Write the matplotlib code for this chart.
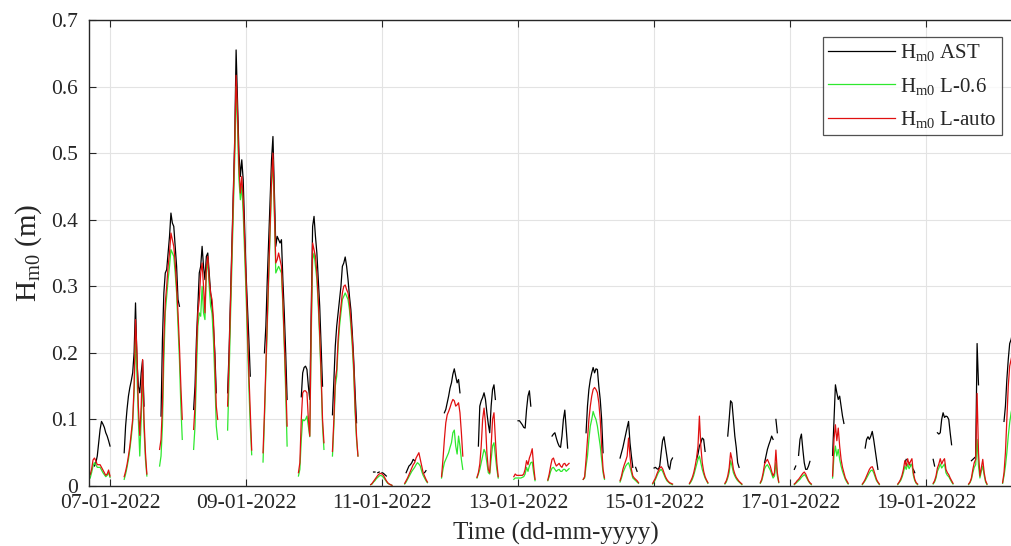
import numpy as np
import matplotlib
matplotlib.use("Agg")
import matplotlib.pyplot as plt
import matplotlib.dates as mdates
from matplotlib.ticker import FuncFormatter

nan = np.nan

# Start of each measurement burst; samples every 30 minutes within a burst
burst_starts = [
    "2022-01-06T17:00", "2022-01-07T05:00", "2022-01-07T17:30", "2022-01-08T05:30",
    "2022-01-08T17:30", "2022-01-09T06:00", "2022-01-09T18:30", "2022-01-10T06:30",
    "2022-01-10T20:00", "2022-01-11T08:00", "2022-01-11T21:00", "2022-01-12T09:30",
    "2022-01-12T22:30", "2022-01-13T10:30", "2022-01-13T23:00", "2022-01-14T12:00",
    "2022-01-14T23:30", "2022-01-15T12:30", "2022-01-16T01:00", "2022-01-16T13:30",
    "2022-01-17T01:30", "2022-01-17T15:00", "2022-01-18T01:30", "2022-01-18T14:00",
    "2022-01-19T02:30", "2022-01-19T15:00", "2022-01-20T03:00",
]

# Hm0 from AST
hm0_ast = [
    [nan, nan, nan, 0.03, 0.035, 0.045, 0.065, 0.085, 0.097, 0.093, 0.088, 0.08, 0.075, 0.068, 0.06],
    [0.05, 0.09, 0.115, 0.135, 0.148, 0.158, 0.17, 0.2, 0.275, 0.19, 0.15, 0.14, 0.17, 0.189, 0.12, nan, nan],
    [nan, 0.105, 0.22, 0.29, 0.32, 0.325, 0.35, 0.375, 0.41, 0.395, 0.39, 0.36, 0.33, 0.28, 0.27, nan, nan],
    [0.115, 0.15, 0.22, 0.27, 0.32, 0.33, 0.36, 0.33, 0.31, 0.345, 0.35, 0.32, 0.29, 0.27, 0.24, 0.2, 0.14, nan],
    [0.14, 0.2, 0.28, 0.36, 0.44, 0.52, 0.655, 0.58, 0.5, 0.465, 0.49, 0.46, 0.39, 0.32, 0.27, 0.22, 0.165, nan],
    [nan, 0.2, 0.24, 0.31, 0.37, 0.43, 0.49, 0.525, 0.44, 0.36, 0.375, 0.37, 0.365, 0.37, 0.31, 0.26, 0.2, 0.13],
    [nan, nan, 0.134, 0.17, 0.178, 0.18, 0.175, 0.15, 0.13, 0.26, 0.39, 0.405, 0.375, 0.35, 0.31, 0.27, 0.21, 0.15, nan],
    [0.107, 0.16, 0.21, 0.24, 0.26, 0.28, 0.3, 0.33, 0.335, 0.344, 0.33, 0.31, 0.285, 0.265, 0.23, 0.19, 0.14, 0.095, nan],
    [nan, nan, 0.021, 0.021, nan, 0.02, 0.021, nan, 0.02, 0.019, 0.017, 0.015, nan, nan, nan, nan],
    [nan, 0.02, 0.025, 0.03, 0.032, 0.035, 0.04, 0.038, nan, nan, nan, nan, nan, nan, 0.02, 0.023, nan],
    [nan, nan, 0.11, 0.115, 0.125, 0.135, 0.147, 0.155, 0.168, 0.176, 0.165, 0.155, 0.16, 0.14, nan, nan],
    [nan, 0.06, 0.12, 0.128, 0.133, 0.14, 0.13, 0.11, 0.093, 0.08, 0.12, 0.145, 0.152, 0.13, nan, nan],
    [nan, nan, nan, 0.098, 0.098, 0.095, 0.092, 0.088, 0.087, 0.115, 0.135, 0.143, 0.12, nan, nan, nan],
    [nan, nan, nan, 0.075, 0.078, 0.08, 0.072, 0.065, 0.06, 0.058, 0.075, 0.1, 0.114, 0.085, 0.057, nan],
    [nan, nan, 0.08, 0.12, 0.145, 0.16, 0.17, 0.178, 0.17, 0.176, 0.175, 0.15, 0.13, 0.1, 0.05, nan],
    [0.042, 0.05, 0.058, 0.068, 0.078, 0.088, 0.097, 0.065, 0.045, 0.028, nan, 0.028, 0.022, nan],
    [nan, 0.027, 0.028, 0.026, 0.025, 0.03, 0.05, 0.068, 0.074, 0.06, 0.045, 0.03, 0.025, 0.038, 0.042],
    [nan, nan, nan, nan, nan, 0.04, 0.048, 0.06, 0.065, 0.072, 0.07, 0.052, nan, nan],
    [nan, nan, 0.075, 0.1, 0.128, 0.125, 0.1, 0.075, 0.058, 0.035, 0.028, nan, nan],
    [nan, nan, nan, 0.035, 0.045, 0.055, 0.062, 0.068, 0.075, 0.07, nan, 0.1, 0.08, nan],
    [0.025, 0.03, nan, 0.046, 0.07, 0.078, 0.055, 0.035, 0.025, 0.025, 0.03, 0.037, nan],
    [0.046, 0.1, 0.152, 0.14, 0.13, 0.135, 0.12, 0.105, 0.094, nan, nan, nan],
    [nan, nan, 0.057, 0.07, 0.074, 0.07, 0.075, 0.082, 0.07, 0.055, 0.04, 0.025, nan],
    [nan, nan, nan, nan, nan, 0.035, 0.04, nan, 0.035, 0.03, nan, 0.025, 0.02, nan, nan],
    [0.04, 0.03, nan, 0.08, 0.078, 0.08, 0.1, 0.11, 0.103, 0.105, 0.104, 0.1, 0.08, 0.062, nan],
    [nan, nan, 0.038, 0.04, 0.042, 0.044, 0.214, 0.152, nan, nan, nan, nan, nan, nan],
    [nan, 0.097, 0.12, 0.16, 0.19, 0.214, 0.22, 0.23],
]

# Hm0 from L-0.6
hm0_l06 = [
    [0.012, 0.02, 0.03, 0.035, 0.032, 0.028, 0.028, 0.028, 0.024, 0.02, 0.017, 0.014, 0.016, 0.02, 0.013],
    [0.01, 0.018, 0.028, 0.04, 0.055, 0.073, 0.095, 0.14, 0.22, 0.17, 0.1, 0.045, 0.1, 0.17, 0.085, 0.04, 0.015],
    [0.03, 0.045, 0.09, 0.19, 0.26, 0.285, 0.31, 0.33, 0.355, 0.35, 0.345, 0.32, 0.29, 0.24, 0.19, 0.12, 0.07],
    [0.055, 0.09, 0.17, 0.24, 0.26, 0.255, 0.3, 0.26, 0.25, 0.32, 0.34, 0.3, 0.27, 0.26, 0.22, 0.16, 0.09, 0.07],
    [0.084, 0.16, 0.25, 0.33, 0.41, 0.49, 0.6, 0.54, 0.46, 0.43, 0.45, 0.41, 0.35, 0.29, 0.22, 0.15, 0.09, 0.047],
    [0.036, 0.1, 0.17, 0.24, 0.31, 0.38, 0.45, 0.49, 0.41, 0.32, 0.325, 0.33, 0.325, 0.32, 0.27, 0.21, 0.14, 0.06],
    [0.015, 0.025, 0.07, 0.1, 0.098, 0.1, 0.105, 0.09, 0.074, 0.22, 0.34, 0.35, 0.33, 0.31, 0.27, 0.22, 0.16, 0.09, 0.055],
    [0.045, 0.09, 0.15, 0.165, 0.21, 0.24, 0.26, 0.28, 0.285, 0.29, 0.285, 0.28, 0.265, 0.24, 0.21, 0.17, 0.11, 0.07, 0.045],
    [0.002, 0.003, 0.006, 0.008, 0.011, 0.013, 0.015, 0.016, 0.015, 0.013, 0.01, 0.007, 0.004, 0.003, 0.002, 0.001],
    [0.003, 0.006, 0.01, 0.014, 0.018, 0.022, 0.025, 0.028, 0.032, 0.035, 0.033, 0.03, 0.022, 0.016, 0.012, 0.008, 0.005],
    [0.012, 0.025, 0.035, 0.04, 0.045, 0.05, 0.058, 0.065, 0.08, 0.084, 0.06, 0.048, 0.075, 0.06, 0.04, 0.025],
    [0.012, 0.018, 0.025, 0.035, 0.045, 0.055, 0.05, 0.035, 0.02, 0.018, 0.04, 0.06, 0.065, 0.045, 0.025, 0.012],
    [0.01, 0.012, 0.012, 0.012, 0.012, 0.012, 0.013, 0.014, 0.018, 0.028, 0.022, 0.03, 0.035, 0.036, 0.02, 0.008],
    [0.008, 0.014, 0.022, 0.027, 0.028, 0.025, 0.022, 0.024, 0.025, 0.022, 0.022, 0.025, 0.025, 0.022, 0.024, 0.026],
    [0.01, 0.012, 0.03, 0.045, 0.07, 0.09, 0.1, 0.112, 0.105, 0.1, 0.09, 0.075, 0.06, 0.04, 0.02, 0.01],
    [0.006, 0.012, 0.02, 0.025, 0.03, 0.033, 0.035, 0.028, 0.02, 0.012, 0.01, 0.008, 0.006, 0.004],
    [0.003, 0.006, 0.01, 0.015, 0.02, 0.023, 0.025, 0.022, 0.017, 0.012, 0.008, 0.006, 0.004, 0.003, 0.002],
    [0.003, 0.006, 0.01, 0.016, 0.024, 0.032, 0.04, 0.045, 0.035, 0.025, 0.018, 0.012, 0.008, 0.004],
    [0.003, 0.006, 0.012, 0.02, 0.038, 0.03, 0.02, 0.015, 0.011, 0.008, 0.006, 0.004, 0.002],
    [0.004, 0.008, 0.016, 0.026, 0.03, 0.032, 0.028, 0.024, 0.018, 0.012, 0.015, 0.035, 0.015, 0.005],
    [0.002, 0.004, 0.006, 0.008, 0.01, 0.013, 0.015, 0.017, 0.015, 0.011, 0.007, 0.004, 0.002],
    [0.012, 0.045, 0.06, 0.045, 0.055, 0.04, 0.03, 0.022, 0.016, 0.01, 0.006, 0.003],
    [0.002, 0.005, 0.008, 0.012, 0.016, 0.02, 0.023, 0.024, 0.02, 0.014, 0.008, 0.005, 0.002],
    [0.002, 0.005, 0.008, 0.013, 0.02, 0.03, 0.025, 0.033, 0.026, 0.03, 0.033, 0.016, 0.008, 0.004, 0.002],
    [0.003, 0.006, 0.012, 0.022, 0.027, 0.033, 0.027, 0.03, 0.033, 0.02, 0.016, 0.014, 0.01, 0.006, 0.003],
    [0.002, 0.005, 0.01, 0.02, 0.028, 0.032, 0.07, 0.03, 0.012, 0.022, 0.03, 0.016, 0.006, 0.002],
    [0.004, 0.015, 0.03, 0.05, 0.075, 0.095, 0.11, 0.12],
]

# Hm0 from L-auto
hm0_lauto = [
    [0.017, 0.025, 0.039, 0.042, 0.038, 0.032, 0.032, 0.032, 0.028, 0.024, 0.02, 0.016, 0.018, 0.024, 0.015],
    [0.014, 0.022, 0.032, 0.045, 0.06, 0.08, 0.1, 0.15, 0.25, 0.2, 0.12, 0.076, 0.12, 0.19, 0.1, 0.05, 0.018],
    [0.055, 0.07, 0.12, 0.22, 0.275, 0.3, 0.33, 0.35, 0.38, 0.37, 0.36, 0.335, 0.3, 0.26, 0.21, 0.15, 0.1],
    [0.085, 0.12, 0.2, 0.26, 0.28, 0.32, 0.335, 0.3, 0.26, 0.33, 0.345, 0.31, 0.29, 0.28, 0.25, 0.19, 0.12, 0.1],
    [0.12, 0.19, 0.27, 0.35, 0.43, 0.51, 0.617, 0.56, 0.48, 0.44, 0.465, 0.43, 0.37, 0.31, 0.24, 0.17, 0.11, 0.054],
    [0.05, 0.11, 0.18, 0.25, 0.32, 0.39, 0.46, 0.5, 0.42, 0.335, 0.34, 0.35, 0.34, 0.33, 0.28, 0.22, 0.16, 0.09],
    [0.02, 0.035, 0.1, 0.14, 0.143, 0.143, 0.14, 0.1, 0.075, 0.24, 0.365, 0.355, 0.345, 0.32, 0.28, 0.23, 0.17, 0.1, 0.065],
    [0.052, 0.1, 0.16, 0.175, 0.22, 0.25, 0.27, 0.29, 0.3, 0.302, 0.295, 0.29, 0.275, 0.25, 0.22, 0.18, 0.12, 0.075, 0.045],
    [0.002, 0.004, 0.007, 0.01, 0.013, 0.016, 0.018, 0.019, 0.018, 0.016, 0.012, 0.008, 0.005, 0.003, 0.002, 0.001],
    [0.004, 0.008, 0.012, 0.017, 0.022, 0.027, 0.032, 0.035, 0.042, 0.046, 0.05, 0.04, 0.03, 0.02, 0.015, 0.01, 0.006],
    [0.014, 0.04, 0.07, 0.095, 0.107, 0.112, 0.118, 0.125, 0.13, 0.128, 0.12, 0.122, 0.125, 0.11, 0.08, 0.045],
    [0.013, 0.02, 0.033, 0.06, 0.1, 0.117, 0.095, 0.05, 0.025, 0.02, 0.06, 0.1, 0.11, 0.07, 0.035, 0.014],
    [0.014, 0.018, 0.016, 0.016, 0.016, 0.016, 0.016, 0.018, 0.025, 0.038, 0.032, 0.042, 0.048, 0.056, 0.03, 0.01],
    [0.009, 0.018, 0.03, 0.04, 0.042, 0.035, 0.03, 0.032, 0.034, 0.03, 0.028, 0.033, 0.034, 0.03, 0.032, 0.034],
    [0.01, 0.014, 0.04, 0.07, 0.1, 0.12, 0.135, 0.145, 0.148, 0.145, 0.14, 0.125, 0.1, 0.06, 0.025, 0.012],
    [0.008, 0.015, 0.025, 0.032, 0.038, 0.045, 0.072, 0.045, 0.025, 0.015, 0.012, 0.01, 0.008, 0.005],
    [0.004, 0.008, 0.012, 0.018, 0.023, 0.027, 0.029, 0.026, 0.02, 0.014, 0.01, 0.007, 0.005, 0.004, 0.003],
    [0.004, 0.008, 0.013, 0.02, 0.03, 0.042, 0.06, 0.105, 0.06, 0.035, 0.022, 0.014, 0.009, 0.005],
    [0.004, 0.008, 0.015, 0.027, 0.05, 0.04, 0.025, 0.018, 0.013, 0.01, 0.007, 0.005, 0.003],
    [0.005, 0.01, 0.02, 0.033, 0.037, 0.04, 0.035, 0.03, 0.022, 0.015, 0.02, 0.054, 0.02, 0.006],
    [0.003, 0.005, 0.008, 0.01, 0.013, 0.016, 0.019, 0.021, 0.018, 0.013, 0.008, 0.005, 0.003],
    [0.015, 0.07, 0.092, 0.068, 0.087, 0.06, 0.04, 0.028, 0.02, 0.012, 0.008, 0.004],
    [0.003, 0.006, 0.01, 0.015, 0.02, 0.025, 0.028, 0.029, 0.024, 0.017, 0.01, 0.006, 0.003],
    [0.003, 0.006, 0.01, 0.016, 0.025, 0.038, 0.03, 0.041, 0.032, 0.037, 0.041, 0.02, 0.01, 0.005, 0.003],
    [0.004, 0.008, 0.015, 0.027, 0.033, 0.041, 0.033, 0.038, 0.041, 0.025, 0.02, 0.017, 0.012, 0.008, 0.004],
    [0.003, 0.006, 0.012, 0.025, 0.035, 0.04, 0.139, 0.05, 0.015, 0.028, 0.04, 0.02, 0.008, 0.003],
    [0.005, 0.02, 0.05, 0.1, 0.15, 0.18, 0.19, 0.2],
]

x_ticks = ["2022-01-07", "2022-01-09", "2022-01-11", "2022-01-13",
           "2022-01-15", "2022-01-17", "2022-01-19"]
y_ticks = [0, 0.1, 0.2, 0.3, 0.4, 0.5, 0.6, 0.7]

STEP = np.timedelta64(30, "m")


def assemble(starts, bursts):
    """Join the bursts into one series, with a NaN gap between bursts."""
    ts, ys = [], []
    for s, vals in zip(starts, bursts):
        t0 = np.datetime64(s, "m")
        n = len(vals)
        ts.extend(t0 + STEP * np.arange(n + 1))
        ys.extend(list(vals) + [nan])
    return np.array(ts, dtype="datetime64[m]"), np.array(ys, dtype=float)


serif = "Liberation Serif"
plt.rcParams["font.family"] = [serif, "DejaVu Serif"]
plt.rcParams["mathtext.fontset"] = "custom"
plt.rcParams["mathtext.rm"] = serif
plt.rcParams["mathtext.it"] = serif + ":italic"
plt.rcParams["mathtext.bf"] = serif + ":bold"

ink = "#262626"
fig = plt.figure(figsize=(10.11, 5.46), dpi=100)
ax = fig.add_axes([89 / 1011, 60 / 546, (1023 - 89) / 1011, 466 / 546])

t_a, y_a = assemble(burst_starts, hm0_ast)
t_g, y_g = assemble(burst_starts, hm0_l06)
t_r, y_r = assemble(burst_starts, hm0_lauto)

lw = 0.9
ax.plot(t_a, y_a, color="black", lw=lw, label=r"$\mathrm{H_{m0}}$ AST")
ax.plot(t_g, y_g, color="#2ee82e", lw=lw, label=r"$\mathrm{H_{m0}}$ L-0.6")
ax.plot(t_r, y_r, color="#e01010", lw=lw, label=r"$\mathrm{H_{m0}}$ L-auto")

ax.set_xlim(np.datetime64("2022-01-06T16:35"), np.datetime64("2022-01-20T10:12"))
ax.set_ylim(0, 0.7)
ax.set_xticks([np.datetime64(d) for d in x_ticks])
ax.xaxis.set_major_formatter(mdates.DateFormatter("%d-%m-%Y"))
ax.set_yticks(y_ticks)
ax.yaxis.set_major_formatter(FuncFormatter(lambda v, p: f"{v:g}"))

ax.grid(True, color="#e3e3e3", lw=0.8)
ax.set_axisbelow(True)
for sp in ax.spines.values():
    sp.set_color(ink)
    sp.set_linewidth(1.0)
ax.tick_params(direction="in", length=5, width=0.8, color=ink, labelcolor=ink,
               labelsize=15.5, top=True, right=True)
ax.tick_params(axis="x", pad=6)
ax.tick_params(axis="y", pad=8)

ax.set_xlabel("Time (dd-mm-yyyy)", fontsize=18, color=ink, labelpad=6)
ax.set_ylabel(r"$\mathrm{H_{m0}}$ (m)", fontsize=21, color=ink, labelpad=5)

leg = ax.legend(loc="upper left", bbox_to_anchor=(823 / 1011, 1 - 37 / 546),
                bbox_transform=fig.transFigure, borderaxespad=0, fontsize=15,
                fancybox=False, frameon=True, handlelength=3.2, handletextpad=0.25,
                labelspacing=0.6, borderpad=0.25)
leg.get_frame().set_edgecolor(ink)
leg.get_frame().set_linewidth(0.9)
for txt in leg.get_texts():
    txt.set_color(ink)

fig.savefig("out.png", dpi=100)
